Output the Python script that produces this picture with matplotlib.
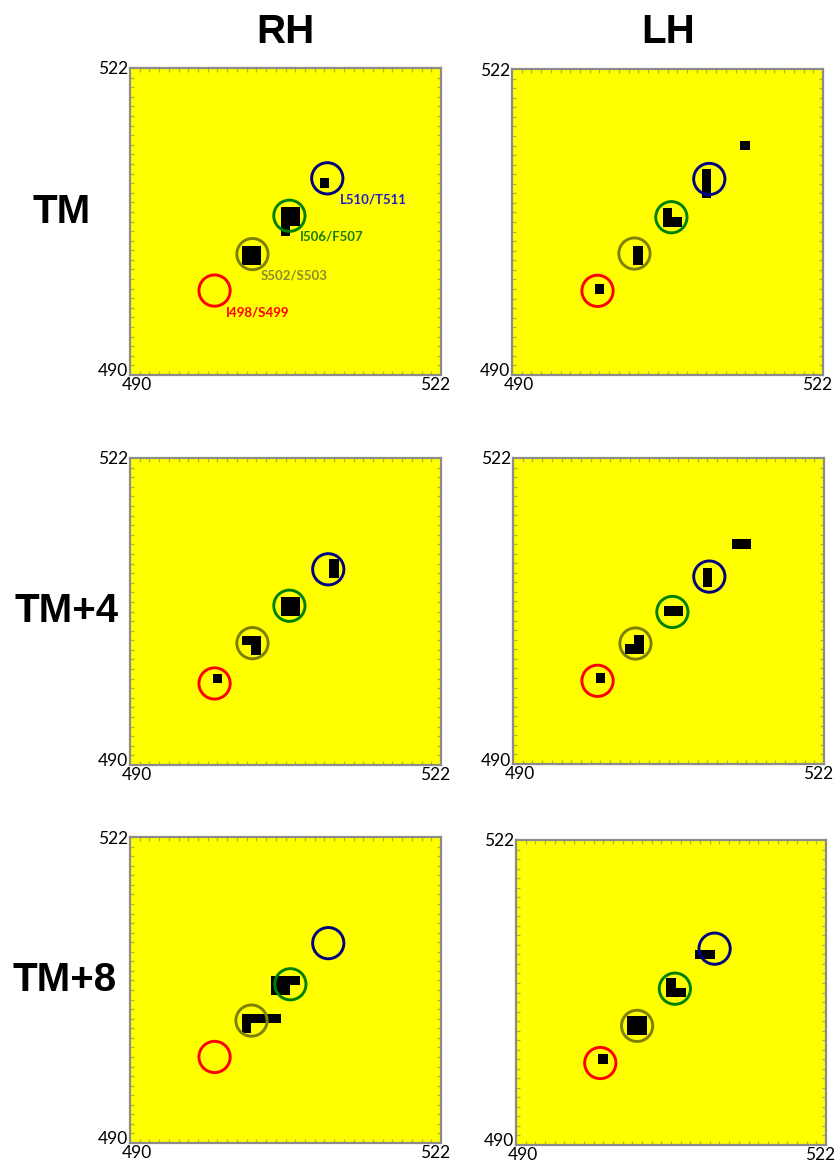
import matplotlib
matplotlib.use("Agg")
import matplotlib.pyplot as plt
import numpy as np
from matplotlib.colors import ListedColormap
from matplotlib.ticker import MultipleLocator, FixedLocator
from matplotlib.transforms import ScaledTranslation

# ---------------------------------------------------------------- data
first_res, last_res = 490, 522
axis_ticks = [490, 522]

column_titles = ["RH", "LH"]
row_titles = ["TM", "TM+4", "TM+8"]

pair_labels = ["I498/S499", "S502/S503", "I506/F507", "L510/T511"]
pair_colors = ["#ff0000", "#808000", "#008000", "#000080"]
pair_text_colors = ["#ff0000", "#8a8a30", "#1a7a0a", "#2020c0"]

# contacts as (residue x, residue y)
rh_tm = [(502, 502), (503, 502), (502, 503), (503, 503),
         (506, 505), (506, 506), (507, 506), (506, 507), (507, 507),
         (510, 510)]
lh_tm = [(499, 499), (503, 502), (503, 503),
         (506, 506), (507, 506), (506, 507),
         (510, 509), (510, 510), (510, 511), (514, 514)]
rh_tm4 = [(499, 499), (502, 503), (503, 503), (503, 502),
          (506, 506), (507, 506), (506, 507), (507, 507),
          (511, 510), (511, 511)]
lh_tm4 = [(499, 499), (502, 502), (503, 502), (503, 503),
          (506, 506), (507, 506), (510, 509), (510, 510),
          (513, 513), (514, 513)]
rh_tm8 = [(502, 502), (502, 503), (503, 503), (504, 503), (505, 503),
          (505, 506), (506, 506), (505, 507), (506, 507), (507, 507)]
lh_tm8 = [(499, 499), (502, 502), (503, 502), (502, 503), (503, 503),
          (506, 506), (507, 506), (506, 507), (509, 510), (510, 510)]

# highlighted residue pairs (circle centres) in each map
rh_tm_marks = [(498.7, 498.8), (502.6, 502.6), (506.4, 506.6), (510.3, 510.5)]
lh_tm_marks = [(498.8, 498.8), (502.6, 502.7), (506.4, 506.5), (510.3, 510.5)]
rh_tm4_marks = [(498.7, 498.5), (502.6, 502.7), (506.4, 506.6), (510.4, 510.4)]
lh_tm4_marks = [(498.7, 498.7), (502.6, 502.6), (506.4, 505.9), (510.2, 509.6)]
rh_tm8_marks = [(498.7, 499.0), (502.5, 502.8), (506.5, 506.6), (510.4, 510.9)]
lh_tm8_marks = [(498.7, 498.6), (502.5, 502.5), (506.4, 506.4), (510.5, 510.6)]

# where the pair names sit in the first map
label_anchors = [(499.9, 496.5), (503.4, 500.4), (507.5, 504.4), (511.6, 508.3)]

panels = [
    (rh_tm, rh_tm_marks), (lh_tm, lh_tm_marks),
    (rh_tm4, rh_tm4_marks), (lh_tm4, lh_tm4_marks),
    (rh_tm8, rh_tm8_marks), (lh_tm8, lh_tm8_marks),
]

# ---------------------------------------------------------------- layout
W, H = 839, 1162
fig = plt.figure(figsize=(W / 100, H / 100), dpi=100)
fig.patch.set_facecolor("white")

# axes boxes in pixels: left, top, right, bottom
boxes = [
    (130, 68, 441, 375), (512, 69, 823, 375),
    (130, 458, 441, 765), (513, 458, 824, 764),
    (130, 837, 441, 1143), (516, 840, 826, 1145),
]

cmap = ListedColormap(["#ffff00", "#000000"])
label_font = "Lato"
title_font = "Liberation Sans"


def shift(dx_px, dy_px):
    return ScaledTranslation(dx_px / 100, dy_px / 100, fig.dpi_scale_trans)


n = last_res - first_res + 1
for idx, ((contacts, marks), (l, t, r, b)) in enumerate(zip(panels, boxes)):
    ax = fig.add_axes([l / W, 1 - b / H, (r - l) / W, (b - t) / H])
    ax.set_facecolor("#ffff00")

    grid = np.zeros((n, n))
    for xi, yi in contacts:
        grid[yi - first_res, xi - first_res] = 1
    ax.imshow(grid, cmap=cmap, vmin=0, vmax=1, origin="lower",
              interpolation="nearest", aspect="auto",
              extent=(first_res - 0.5, last_res + 0.5,
                      first_res - 0.5, last_res + 0.5), zorder=1)

    for (cx, cy), col in zip(marks, pair_colors):
        ax.scatter([cx], [cy], s=22.5 ** 2, facecolors="none",
                   edgecolors=col, linewidths=2.1, zorder=3)

    if idx == 0:
        for (tx, ty), txt, col in zip(label_anchors, pair_labels,
                                      pair_text_colors):
            ax.text(tx, ty, txt, color=col, fontsize=9.5, fontweight="bold",
                    family=label_font, ha="left", va="center", zorder=4)

    ax.set_xlim(first_res, last_res)
    ax.set_ylim(first_res, last_res)
    ax.xaxis.set_major_locator(FixedLocator(axis_ticks))
    ax.yaxis.set_major_locator(FixedLocator(axis_ticks))
    ax.xaxis.set_minor_locator(MultipleLocator(1))
    ax.yaxis.set_minor_locator(MultipleLocator(1))
    ax.tick_params(which="major", length=0, pad=1.5, labelsize=12.5,
                   top=False, right=False)
    ax.tick_params(which="minor", direction="in", length=2.6, width=0.9,
                   color="#b4b420", top=True, right=True)
    xl = ax.get_xticklabels()
    yl = ax.get_yticklabels()
    for lab in xl + yl:
        lab.set_family(label_font)
    # pull the corner labels slightly inwards
    xl[0].set_transform(xl[0].get_transform() + shift(7, 0))
    xl[1].set_transform(xl[1].get_transform() + shift(-6, 0))
    yl[0].set_transform(yl[0].get_transform() + shift(0, 5))
    for sp in ax.spines.values():
        sp.set_color("#8c8c8c")
        sp.set_linewidth(1.6)
        sp.set_zorder(5)

# column and row headings
col_centers = [285.5, 668]
for x, txt in zip(col_centers, column_titles):
    fig.text(x / W, 1 - 32 / H, txt, fontsize=29, fontweight="bold",
             family=title_font, ha="center", va="center")

row_centers = [(62, 212), (67, 611), (65, 980)]
for (x, y), txt in zip(row_centers, row_titles):
    fig.text(x / W, 1 - y / H, txt, fontsize=29, fontweight="bold",
             family=title_font, ha="center", va="center")

fig.savefig("out.png", dpi=100, facecolor="white")
